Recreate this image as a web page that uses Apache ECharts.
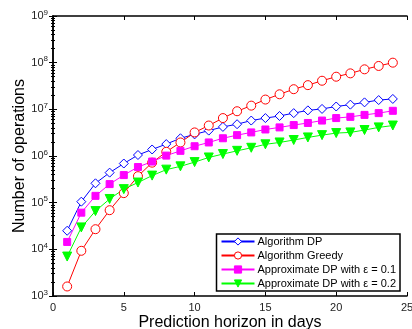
<!DOCTYPE html>
<html>
<head>
<meta charset="utf-8">
<script src="https://cdn.jsdelivr.net/npm/echarts@6/dist/echarts.min.js"></script>
<style>
  html, body { margin: 0; padding: 0; background: #fff; }
  #chart { width: 412px; height: 329px; }
</style>
</head>
<body>
<div id="chart"></div>
<script>
// prediction horizon (days)
const days = [1, 2, 3, 4, 5, 6, 7, 8, 9, 10, 11, 12, 13, 14, 15, 16, 17, 18, 19, 20, 21, 22, 23, 24];

// number of operations
const algoDP = [2.5e4, 1.05e5, 2.6e5, 4.4e5, 6.9e5, 1.05e6, 1.38e6, 1.8e6, 2.4e6, 2.9e6, 3.5e6, 4.2e6,
  4.8e6, 5.75e6, 6.5e6, 7.2e6, 8.3e6, 9.5e6, 1.02e7, 1.15e7, 1.26e7, 1.41e7, 1.58e7, 1.67e7];
const algoGreedy = [1.6e3, 9.3e3, 2.7e4, 6.9e4, 1.6e5, 3.7e5, 7.2e5, 1.23e6, 1.95e6, 3.2e6, 4.5e6, 6.5e6,
  9.1e6, 1.2e7, 1.62e7, 2.1e7, 2.7e7, 3.3e7, 4.1e7, 5.0e7, 5.9e7, 7.2e7, 8.5e7, 1.0e8];
const approx01 = [1.44e4, 6.1e4, 1.4e5, 2.5e5, 3.9e5, 5.8e5, 7.6e5, 1.02e6, 1.29e6, 1.62e6, 1.95e6, 2.4e6,
  2.8e6, 3.2e6, 3.7e6, 4.1e6, 4.6e6, 5.1e6, 5.75e6, 6.5e6, 6.9e6, 7.6e6, 8.3e6, 9.3e6];
const approx02 = [7e3, 2.95e4, 6.6e4, 1.2e5, 1.95e5, 2.7e5, 3.8e5, 5.1e5, 6.0e5, 7.4e5, 9.3e5, 1.1e6,
  1.29e6, 1.5e6, 1.78e6, 1.95e6, 2.2e6, 2.5e6, 2.8e6, 3.1e6, 3.2e6, 3.6e6, 4.1e6, 4.5e6];

const seriesNames = ['Algorithm DP', 'Algorithm Greedy', 'Approximate DP with \u03b5 = 0.1', 'Approximate DP with \u03b5 = 0.2'];

const chart = echarts.init(document.getElementById('chart'));

const font = 'Liberation Sans, Arial, sans-serif';

function pairs(vals) {
  return days.map((d, i) => [d, vals[i]]);
}

// hollow markers: white fill + coloured 1px border (the built-in "empty" symbols force a 2px border)
function lineSeries(name, vals, color, symbol, size, hollow, rotate) {
  return {
    name: name,
    type: 'line',
    data: pairs(vals),
    symbol: symbol,
    symbolSize: size,
    symbolRotate: rotate || 0,
    lineStyle: { color: color, width: 1 },
    itemStyle: { color: hollow ? '#fff' : color, borderColor: color, borderWidth: 1 },
    emphasis: { disabled: true },
    animation: false
  };
}

const tickStyle = { inside: true, length: 4, lineStyle: { color: '#000' } };
const lineStyle = { lineStyle: { color: '#000', width: 1.5 } };

const option = {
  animation: false,
  grid: { left: 53, right: 5, top: 16, bottom: 33, outerBoundsMode: 'none', containLabel: false },
  xAxis: [
    {
      type: 'value', min: 0, max: 25, interval: 5,
      axisLine: lineStyle,
      axisTick: tickStyle,
      splitLine: { show: false },
      axisLabel: { color: '#222', fontSize: 11, fontFamily: font, margin: 6 },
      name: 'Prediction horizon in days',
      nameLocation: 'middle',
      nameMoveOverlap: false,
      nameGap: 19,
      nameTextStyle: { fontSize: 16, color: '#000', fontFamily: font }
    },
    {
      type: 'value', min: 0, max: 25, interval: 5, position: 'top',
      axisLine: lineStyle, axisTick: tickStyle,
      axisLabel: { show: false }, splitLine: { show: false }
    }
  ],
  yAxis: [
    {
      type: 'log', logBase: 10, min: 1e3, max: 1e9,
      axisLine: lineStyle,
      axisTick: tickStyle,
      minorTick: { show: true, splitNumber: 9, length: 2, lineStyle: { color: '#000' } },
      splitLine: { show: false },
      axisLabel: {
        margin: 5,
        formatter: v => '{b|10}{s|' + Math.round(Math.log10(v)) + '}',
        rich: {
          b: { fontSize: 11, color: '#222', fontFamily: font },
          s: { fontSize: 8, color: '#222', fontFamily: font, verticalAlign: 'top', padding: [0, 0, 7, 0] }
        }
      },
      name: 'Number of operations',
      nameLocation: 'middle',
      nameMoveOverlap: false,
      nameGap: 25,
      nameTextStyle: { fontSize: 16, color: '#000', fontFamily: font }
    },
    {
      type: 'log', logBase: 10, min: 1e3, max: 1e9, position: 'right',
      axisLine: lineStyle, axisTick: tickStyle,
      minorTick: { show: true, splitNumber: 9, length: 2, lineStyle: { color: '#000' } },
      axisLabel: { show: false }, splitLine: { show: false }
    }
  ],
  legend: {
    orient: 'vertical',
    right: 12,
    bottom: 38,
    itemWidth: 33,
    itemHeight: 9,
    itemGap: 3,
    padding: [2, 4, 2, 4],
    backgroundColor: '#fff',
    borderColor: '#000',
    borderWidth: 1.5,
    borderRadius: 0,
    itemStyle: { borderWidth: 1 },
    textStyle: { fontSize: 11, color: '#000', fontFamily: font, padding: [0, 0, 0, -2] },
    data: seriesNames
  },
  series: [
    lineSeries(seriesNames[0], algoDP, '#0000ff', 'diamond', 9, true),
    lineSeries(seriesNames[1], algoGreedy, '#ff0000', 'circle', 9, true),
    lineSeries(seriesNames[2], approx01, '#ff00ff', 'rect', 7, false),
    lineSeries(seriesNames[3], approx02, '#00ff00', 'triangle', 9, false, 180)
  ]
};

chart.setOption(option);
</script>
</body>
</html>
